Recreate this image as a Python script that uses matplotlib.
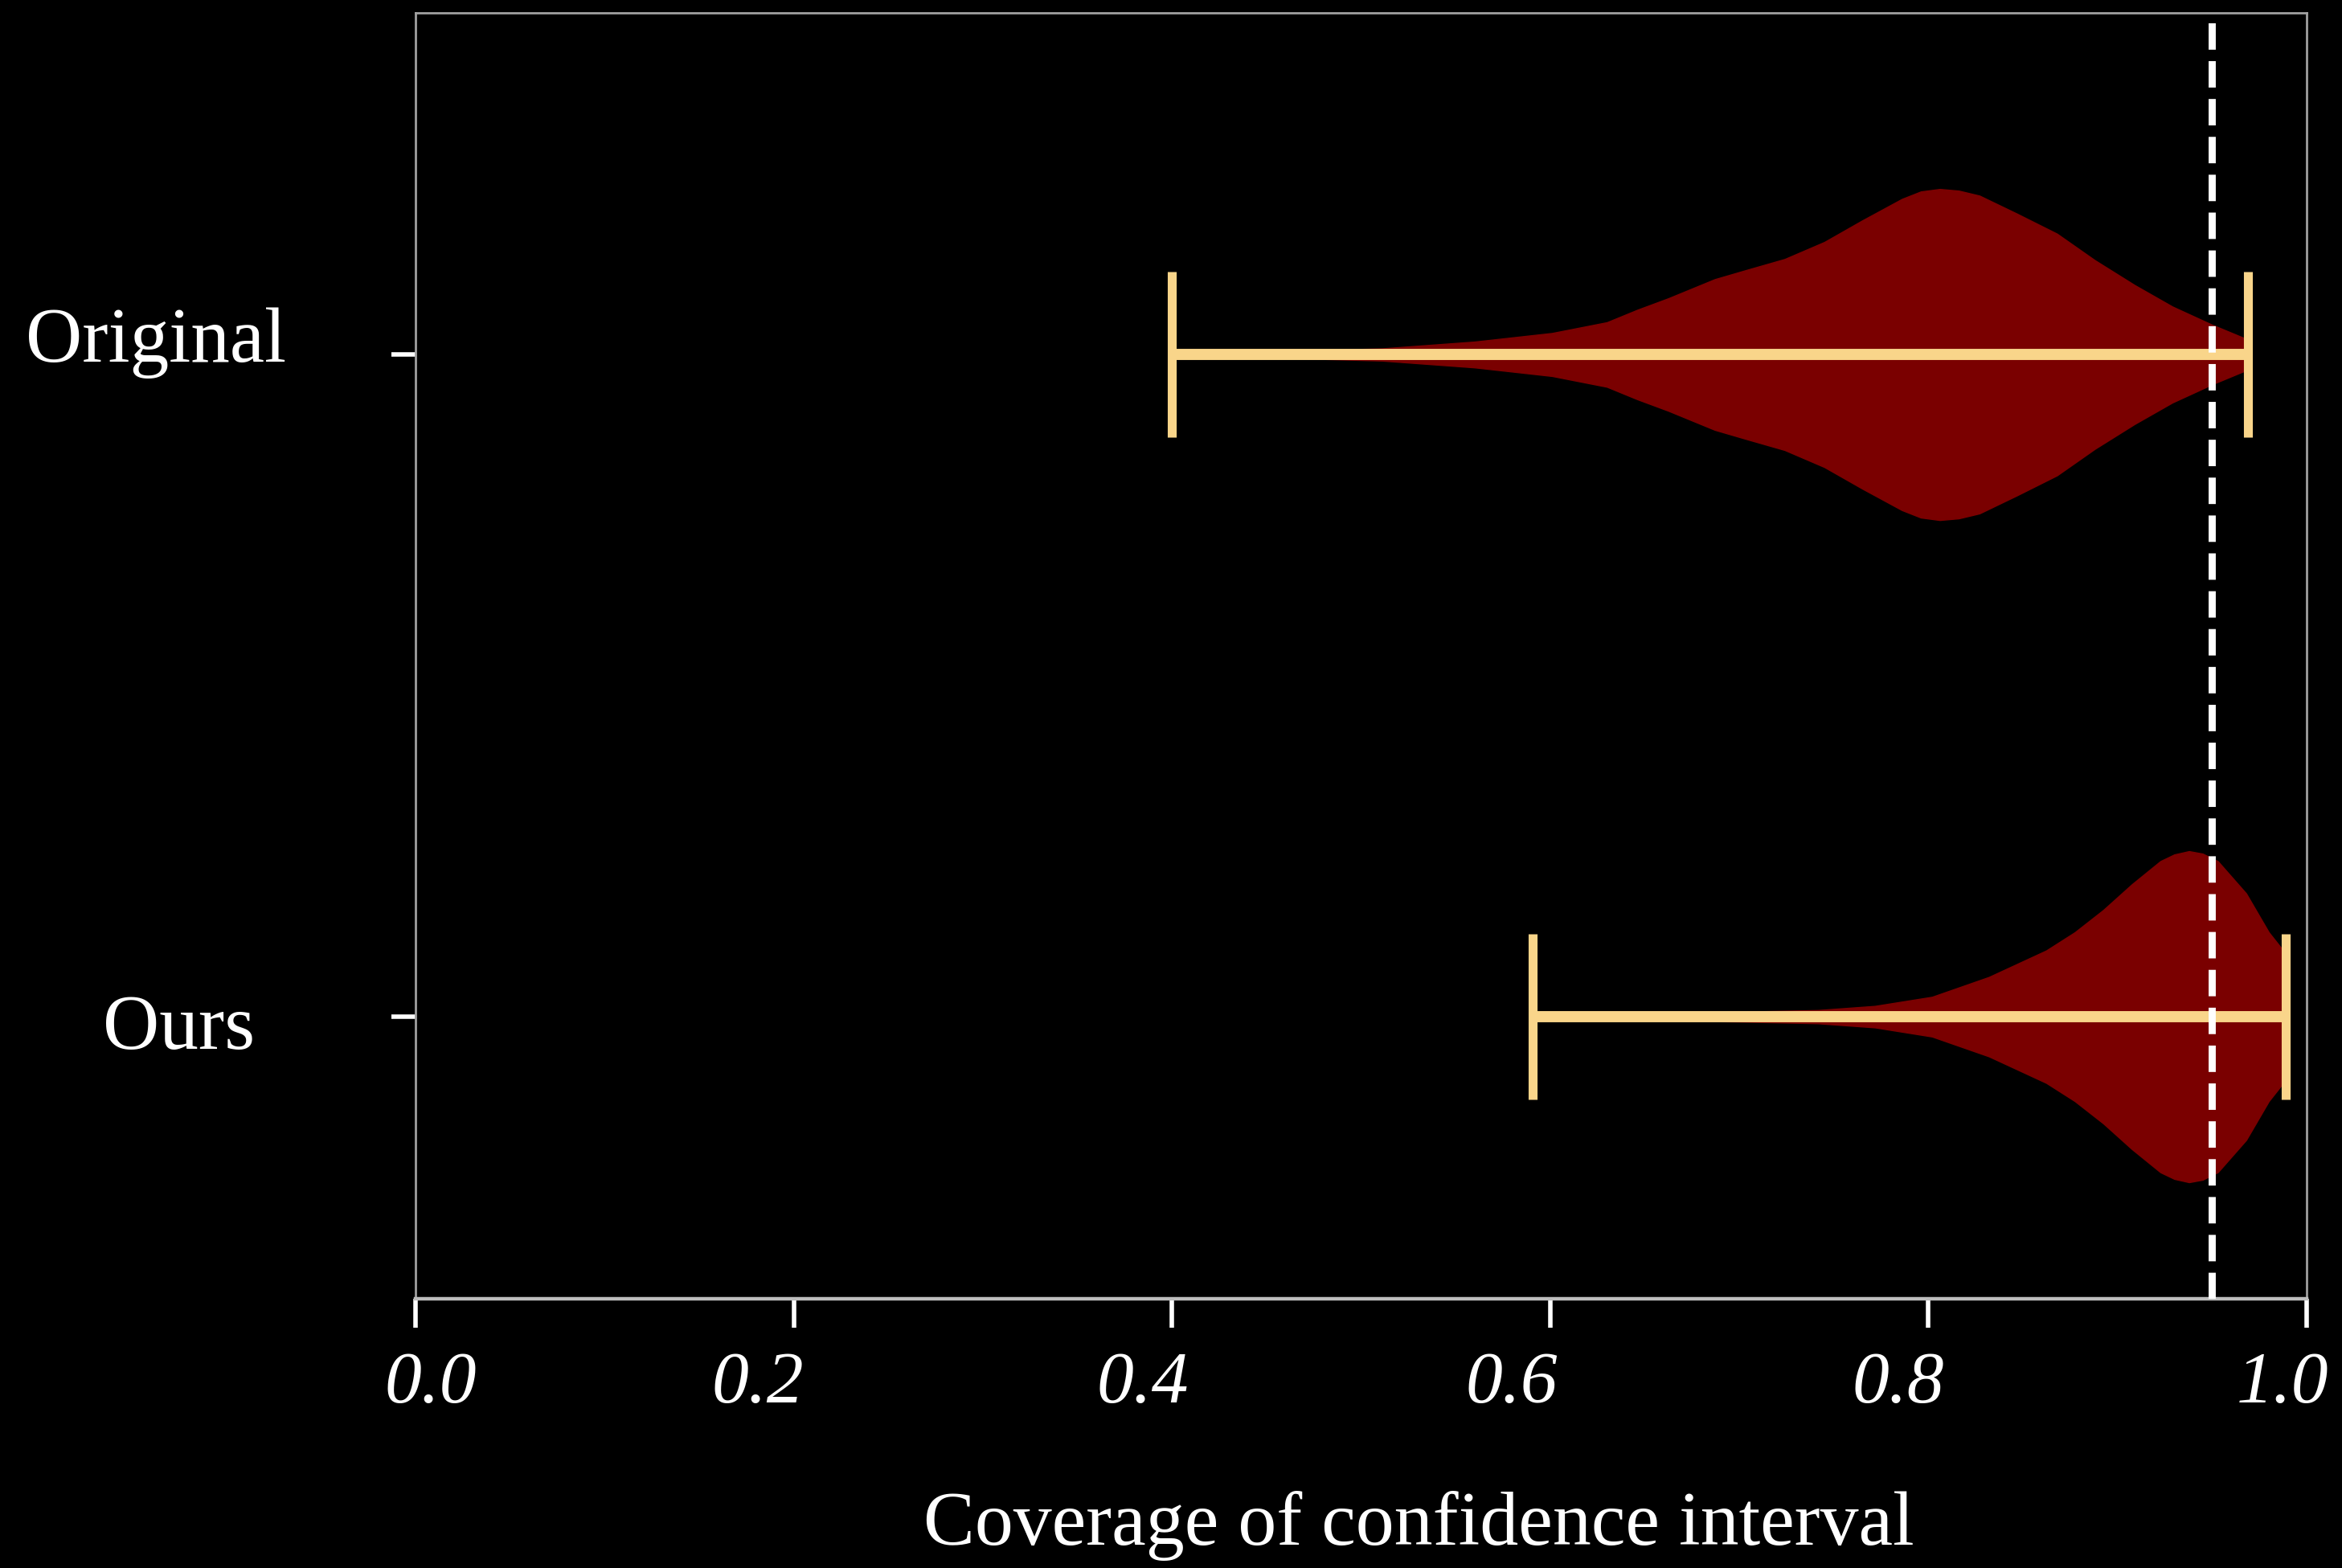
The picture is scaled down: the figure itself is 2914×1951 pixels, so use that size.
import matplotlib
matplotlib.use("Agg")
import matplotlib.pyplot as plt
import matplotlib.transforms as mtransforms
import numpy as np

# ---- data ----
categories = ["Original", "Ours"]
positions = [2, 1]

orig_coords = [0.400, 0.457, 0.511, 0.560, 0.601, 0.630, 0.646, 0.6625, 0.687, 0.7035,
               0.724, 0.745, 0.765, 0.786, 0.796, 0.806, 0.816, 0.827, 0.847, 0.868,
               0.888, 0.909, 0.929, 0.950, 0.969]
orig_density = [0.012, 0.02, 0.037, 0.078, 0.13, 0.195, 0.27, 0.34, 0.455, 0.51,
                0.577, 0.68, 0.81, 0.94, 0.985, 1.0, 0.99, 0.96, 0.85, 0.73,
                0.57, 0.42, 0.29, 0.18, 0.09]
orig_min, orig_max = 0.400, 0.969

ours_coords = [0.5906, 0.65, 0.70, 0.7415, 0.7717, 0.8019, 0.832, 0.8623, 0.8774,
               0.8925, 0.9076, 0.9227, 0.930, 0.9378, 0.945, 0.953, 0.968, 0.980, 0.989]
ours_density = [0.01, 0.02, 0.03, 0.04, 0.065, 0.12, 0.24, 0.40, 0.51,
                0.645, 0.80, 0.94, 0.98, 1.0, 0.985, 0.94, 0.745, 0.51, 0.38]
ours_min, ours_max = 0.5906, 0.989

target_coverage = 0.95
xticks = [0.0, 0.2, 0.4, 0.6, 0.8, 1.0]
xlabel = "Coverage of confidence interval"

# ---- layout / style ----
label_x = [-0.1373, -0.1249]        # horizontal centre of each category label (axes fraction)
label_dy_pt = [-3.2, -14.4]         # baseline offset from tick (points)
xtick_dx_px = [19, -45, -36, -48, -38, -30]   # horizontal nudge of x tick labels (pixels)

DPI = 200
plt.rcParams['font.family'] = ['Liberation Serif', 'DejaVu Serif']

fig = plt.figure(figsize=(14.57, 9.755), dpi=DPI, facecolor='black')
ax = fig.add_axes([0.1774, 0.1717, 0.8075, 0.8201])
ax.set_facecolor('black')

def stats(coords, dens, mn, mx):
    c = np.array(coords)
    v = np.array(dens)
    return dict(coords=c, vals=v, mean=float(np.sum(c * v) / np.sum(v)),
                median=float(c[np.argmax(v)]), min=mn, max=mx)

vpstats = [stats(orig_coords, orig_density, orig_min, orig_max),
           stats(ours_coords, ours_density, ours_min, ours_max)]

parts = ax.violin(vpstats, positions=positions, orientation='horizontal',
                  widths=0.5, showextrema=True, showmeans=False, showmedians=False)
for b in parts['bodies']:
    b.set_facecolor('#7A0000')
    b.set_edgecolor('#7A0000')
    b.set_alpha(1.0)
    b.set_linewidth(0.5)
line_col = '#F9D58A'
parts['cbars'].set_color(line_col)
parts['cbars'].set_linewidth(5.0)
for key in ('cmins', 'cmaxes'):
    parts[key].set_color(line_col)
    parts[key].set_linewidth(4.0)
for key in ('cmins', 'cmaxes', 'cbars'):
    parts[key].set_zorder(3)

ax.axvline(target_coverage, color='white', linestyle='--', linewidth=3.2, zorder=4)

ax.set_xlim(0.0, 1.0)
ax.set_ylim(0.574, 2.516)
ax.set_xticks(xticks)
ax.set_xticklabels([f"{t:.1f}" for t in xticks], fontstyle='italic', fontsize=33, color='white')
ax.set_yticks(positions)
ax.set_yticklabels([])

ax.tick_params(axis='x', colors='white', length=13, width=2.0, pad=10.5)
ax.tick_params(axis='y', colors='white', length=10.8, width=2.0)

for tick, dx in zip(ax.xaxis.get_major_ticks(), xtick_dx_px):
    lab = tick.label1
    lab.set_transform(lab.get_transform() +
                      mtransforms.ScaledTranslation(dx / DPI, 0, fig.dpi_scale_trans))

for cat, pos, lx, dy in zip(categories, positions, label_x, label_dy_pt):
    tr = ax.get_yaxis_transform() + mtransforms.ScaledTranslation(0, dy / 72, fig.dpi_scale_trans)
    ax.text(lx, pos, cat, transform=tr, ha='center', va='baseline',
            fontsize=35, color='white', clip_on=False)

for s in ('left', 'top', 'right'):
    ax.spines[s].set_color('#a0a0a0')
    ax.spines[s].set_linewidth(1.0)
ax.spines['bottom'].set_color('#bdbdbd')
ax.spines['bottom'].set_linewidth(1.6)

ax.set_xlabel(xlabel, fontsize=34.5, color='white', labelpad=33, x=0.5306)

fig.savefig('out.png', dpi=DPI, facecolor='black')
